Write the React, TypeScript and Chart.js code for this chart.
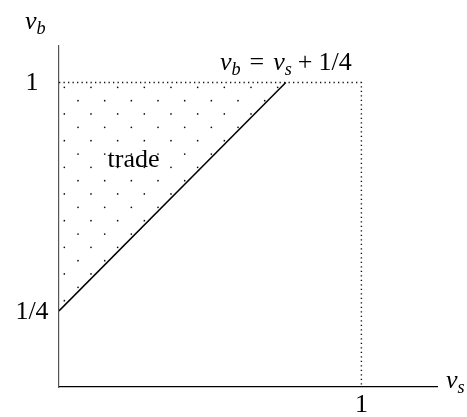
import React, { useEffect, useRef } from "react";
import { Chart, registerables } from "chart.js";

Chart.register(...registerables);

// ---- data ----
const boundaryX = [0, 0.75];
const boundaryY = [0.25, 1];
const frameX = [0, 1, 1];
const frameY = [1, 1, 0];
const yTickValues = [0.25, 1];
const yTickLabels = ["1/4", "1"];
const xTickValues = [1];
const xTickLabels = ["1"];
const regionLabel = "trade";
const xAxisMax = 1.25;
const yAxisMax = 1.12;

const SERIF = '"Liberation Serif", "Times New Roman", serif';

type Part = { t: string; it?: boolean; sub?: boolean; gap?: number };

function measureParts(ctx: CanvasRenderingContext2D, parts: Part[], size: number) {
  let w = 0;
  for (const p of parts) {
    const fs = p.sub ? size * 0.7 : size;
    ctx.font = `${p.it ? "italic " : ""}${fs}px ${SERIF}`;
    w += (p.gap || 0) + ctx.measureText(p.t).width;
  }
  return w;
}

function drawParts(ctx: CanvasRenderingContext2D, parts: Part[], size: number, x0: number, base: number) {
  let xx = x0;
  ctx.textAlign = "left";
  ctx.textBaseline = "alphabetic";
  for (const p of parts) {
    const fs = p.sub ? size * 0.7 : size;
    ctx.font = `${p.it ? "italic " : ""}${fs}px ${SERIF}`;
    xx += p.gap || 0;
    ctx.fillText(p.t, xx, base + (p.sub ? size * 0.2 : 0));
    xx += ctx.measureText(p.t).width;
  }
}

const labelPlugin = {
  id: "labelPlugin",
  afterDraw(chart: any) {
    const { ctx, chartArea } = chart;
    const xs = chart.scales.x;
    const ys = chart.scales.y;
    ctx.save();
    ctx.fillStyle = "#000";
    const size = 26;
    // y tick labels
    ctx.font = `${size}px ${SERIF}`;
    ctx.textAlign = "center";
    ctx.textBaseline = "middle";
    yTickValues.forEach((v, i) => {
      ctx.fillText(yTickLabels[i], chartArea.left - 27, ys.getPixelForValue(v) + 1);
    });
    // x tick labels
    ctx.textBaseline = "alphabetic";
    xTickValues.forEach((v, i) => {
      ctx.fillText(xTickLabels[i], xs.getPixelForValue(v), chartArea.bottom + 25);
    });
    // axis titles
    drawParts(ctx, [{ t: "v", it: true }, { t: "b", it: true, sub: true }], size, chartArea.left - 34, chartArea.top - 17);
    drawParts(ctx, [{ t: "v", it: true }, { t: "s", it: true, sub: true }], size, chartArea.right + 9, chartArea.bottom + 1);
    // boundary equation
    const eq: Part[] = [
      { t: "v", it: true },
      { t: "b", it: true, sub: true },
      { t: "=", gap: 9 },
      { t: "v", it: true, gap: 9 },
      { t: "s", it: true, sub: true },
      { t: "+", gap: 6 },
      { t: "1/4", gap: 6 },
    ];
    const ew = measureParts(ctx, eq, size);
    const ex = xs.getPixelForValue(boundaryX[1]);
    drawParts(ctx, eq, size, ex - ew / 2, ys.getPixelForValue(boundaryY[1]) - 13);
    // region label at triangle centroid
    const cx = (boundaryX[0] + boundaryX[0] + boundaryX[1]) / 3;
    const cy = (boundaryY[0] + boundaryY[1] + boundaryY[1]) / 3;
    ctx.font = `${size}px ${SERIF}`;
    ctx.textAlign = "center";
    ctx.textBaseline = "middle";
    ctx.fillText(regionLabel, xs.getPixelForValue(cx) - 1, ys.getPixelForValue(cy) + 2);
    ctx.restore();
  },
};

function makeDotPattern(ctx: CanvasRenderingContext2D) {
  const tile = 80;
  const step = tile / 3;
  const c = document.createElement("canvas");
  c.width = tile;
  c.height = tile;
  const g = c.getContext("2d")!;
  g.fillStyle = "#111";
  const offsets = [
    [11, 7.3],
    [24.7, 20.7],
  ];
  for (const [ox, oy] of offsets) {
    for (let i = 0; i < 3; i++) {
      for (let j = 0; j < 3; j++) {
        g.beginPath();
        g.arc(ox + i * step, oy + j * step, 0.85, 0, Math.PI * 2);
        g.fill();
      }
    }
  }
  return ctx.createPattern(c, "repeat");
}

export default function App() {
  const ref = useRef<HTMLCanvasElement | null>(null);
  useEffect(() => {
    const canvas = ref.current!;
    const ctx = canvas.getContext("2d")!;
    const pattern = makeDotPattern(ctx);
    const chart = new Chart(canvas, {
      type: "line",
      data: {
        datasets: [
          {
            data: boundaryX.map((x, i) => ({ x, y: boundaryY[i] })),
            borderColor: "#000",
            borderWidth: 1.5,
            pointRadius: 0,
            fill: { value: 1 } as any,
            backgroundColor: pattern as any,
            tension: 0,
          },
          {
            data: frameX.map((x, i) => ({ x, y: frameY[i] })),
            borderColor: "#111",
            borderWidth: 1.4,
            borderDash: [1.3, 3.2],
            pointRadius: 0,
            fill: false,
            tension: 0,
          },
        ],
      },
      options: {
        responsive: false,
        animation: false,
        layout: { padding: { top: 46, right: 30, left: 0, bottom: 0 } },
        plugins: { legend: { display: false }, tooltip: { enabled: false } },
        scales: {
          x: {
            type: "linear",
            min: 0,
            max: xAxisMax,
            grid: { display: false },
            ticks: { display: false },
            border: { display: true, color: "#000", width: 1.3 },
            afterFit: (s: any) => {
              s.height = 30;
            },
          },
          y: {
            type: "linear",
            min: 0,
            max: yAxisMax,
            grid: { display: false },
            ticks: { display: false },
            border: { display: true, color: "#555", width: 1.2 },
            afterFit: (s: any) => {
              s.width = 59;
            },
          },
        },
      },
      plugins: [labelPlugin],
    });
    return () => chart.destroy();
  }, []);
  return (
    <div style={{ position: "fixed", left: 0, top: 0, width: 467, height: 417, background: "#fff" }}>
      <canvas ref={ref} width={467} height={417} />
    </div>
  );
}
